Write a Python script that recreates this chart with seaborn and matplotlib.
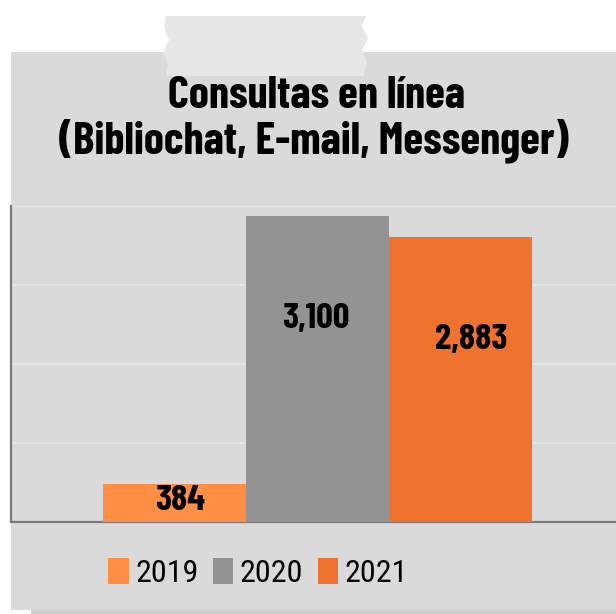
import matplotlib
matplotlib.use("Agg")
import matplotlib.pyplot as plt
from matplotlib.patches import Rectangle, Polygon, Patch
import seaborn as sns
import pandas as pd

# ---- data ----
category = ["Consultas en línea"]
years = ["2019", "2020", "2021"]
values = [384, 3100, 2883]
labels = ["384", "3,100", "2,883"]
colors = ["#FF8F45", "#939393", "#EF722E"]
title_lines = ["Consultas en línea", "(Bibliochat, E-mail, Messenger)"]

# label style offsets (points)
label_dx = [4, -1, 8]

df = pd.DataFrame({"cat": category * len(years), "year": years, "value": values})

sns.set_theme(style="white")
COND = ["Barlow Condensed", "DejaVu Sans"]
LEG = ["Roboto Condensed", "DejaVu Sans"]
plt.rcParams["font.family"] = COND

W, H = 616, 614
fig = plt.figure(figsize=(W / 100, H / 100), dpi=100)
fig.patch.set_facecolor("white")

def fx(px):
    return px / W

def fy(py):
    return 1 - py / H

# panel background + shadow
fig.patches.append(Rectangle((fx(31), fy(614)), fx(616 - 31), (614 - 609) / H,
                             transform=fig.transFigure, facecolor="#cfcfcf",
                             edgecolor="none", zorder=-3))
fig.patches.append(Rectangle((fx(11), fy(610)), fx(616 - 11), (610 - 52) / H,
                             transform=fig.transFigure, facecolor="#dadada",
                             edgecolor="none", zorder=-2))
# tape shape
tape = [(166, 16), (366, 16), (362, 26), (368, 38), (362, 50), (367, 62), (364, 76),
        (166, 76), (168, 64), (163, 52), (169, 40), (164, 28)]
fig.patches.append(Polygon([(fx(x), fy(y)) for x, y in tape], closed=True,
                           transform=fig.transFigure, facecolor="#e7e7e7",
                           edgecolor="none", zorder=-1))

# axes
ax = fig.add_axes([fx(11), 1 - 522 / H, 613 / W, (522 - 206) / H])
ax.set_zorder(2)
ax.set_facecolor("#dadada")
sns.barplot(data=df, x="cat", y="value", hue="year", palette=colors,
            hue_order=years, width=0.7, gap=0, saturation=1, dodge=True,
            legend=False, ax=ax, zorder=3, edgecolor="none", linewidth=0)
ax.set_ylim(0, 3200)
ax.set_xlim(-0.5, 0.5)
ax.set_yticks([0, 800, 1600, 2400, 3200])
ax.set_yticklabels([])
ax.set_xticks([])
ax.set_xlabel("")
ax.set_ylabel("")
ax.grid(axis="y", color="#e4e4e4", linewidth=1.6, zorder=0)
ax.set_axisbelow(True)
for s in ["top", "right"]:
    ax.spines[s].set_visible(False)
for s in ["left", "bottom"]:
    ax.spines[s].set_color("#7a7a7a")
    ax.spines[s].set_linewidth(1.6)
ax.tick_params(left=False, bottom=False)

# value labels
for bar, v, lab, dx in zip(ax.patches, values, labels, label_dx):
    cx = bar.get_x() + bar.get_width() / 2
    y = max(v * 0.55, v - 1045)
    ax.annotate(lab, (cx, y), xytext=(dx, 0), textcoords="offset points",
                ha="center", va="center", fontsize=26.5,
                fontweight="bold", color="black", zorder=5, family=COND)

# title
fig.text(fx(316), fy(108), title_lines[0], ha="center", va="baseline",
         fontsize=32.5, fontweight="bold", color="black", family=COND)
fig.text(fx(314), fy(153), title_lines[1], ha="center", va="baseline",
         fontsize=32.5, fontweight="bold", color="black", family=COND)

# legend
handles = [Patch(facecolor=c, edgecolor="none") for c in colors]
leg = fig.legend(handles, years, loc="center", bbox_to_anchor=(fx(258), fy(573)),
                 ncol=3, frameon=False, handlelength=0.64,
                 handleheight=0.9, handletextpad=0.2, columnspacing=0.45,
                 borderpad=0, prop={"family": LEG, "size": 23})
for t in leg.get_texts():
    t.set_color("black")
leg.set_zorder(5)

fig.savefig("out.png", dpi=100, facecolor=fig.get_facecolor())
